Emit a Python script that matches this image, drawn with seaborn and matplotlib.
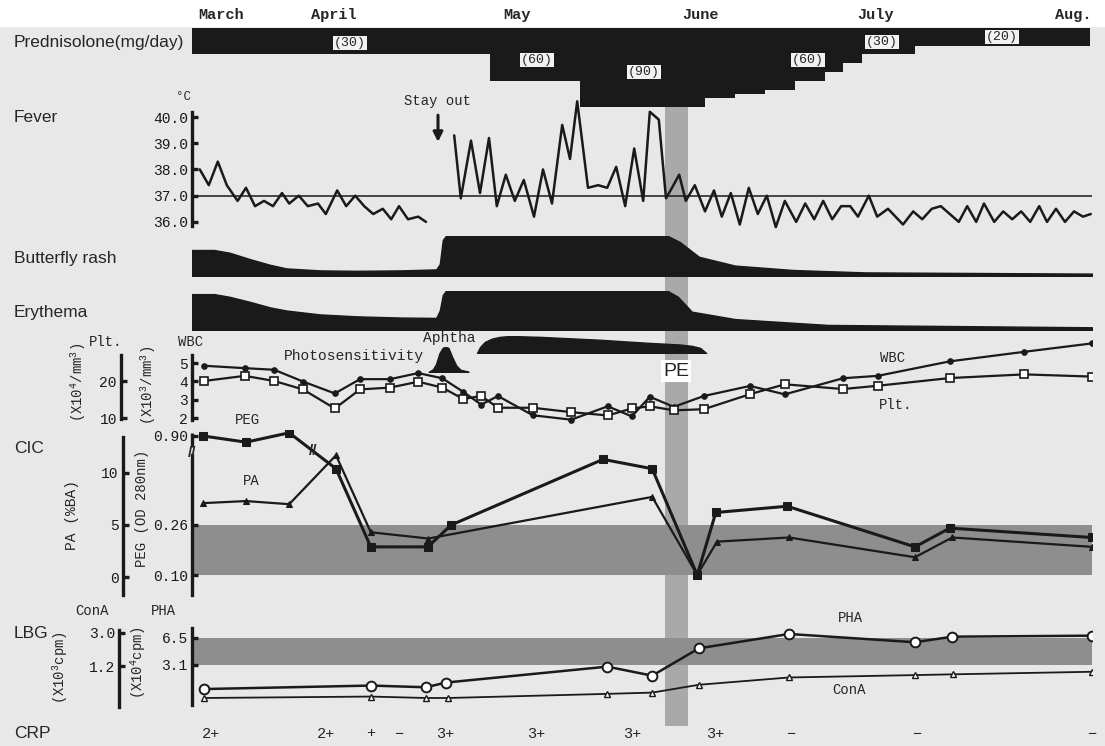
import numpy as np
import matplotlib
matplotlib.use("Agg")
import matplotlib.pyplot as plt
from matplotlib.patches import Rectangle
from matplotlib.ticker import NullLocator, NullFormatter
from matplotlib.transforms import IdentityTransform
import seaborn as sns

# ---------------- values (x = days from start of March) ----------------
months = ["March", "April", "May", "June", "July", "Aug."]
month_day = [4.8, 23.7, 54.2, 84.8, 114.0, 146.8]

# prednisolone (mg/day), each dose holds until the next day in the list
pred_day = [0, 49.7, 64.7, 85.5, 90.5, 95.5, 100.5, 105.5, 108.5, 111.7, 120.5, 149.7]
pred_dose = [30, 60, 90, 80, 75, 70, 60, 50, 40, 30, 20, 20]
pred_lab_day = [26.3, 57.5, 75.3, 102.7, 115.0, 135.0]
pred_lab = ["(30)", "(60)", "(90)", "(60)", "(30)", "(20)"]

# body temperature (deg C), before and after the stay out
fever1_day = [1.3, 2.8, 4.3, 5.8, 7.6, 9.0, 10.5, 12.0, 13.5, 15.0, 16.2, 17.8, 19.3,
              21.0, 22.3, 24.2, 25.7, 27.2, 28.7, 30.2, 31.8, 33.2, 34.5, 36.0, 37.7, 39.0]
fever1 = [38.0, 37.4, 38.3, 37.4, 36.8, 37.3, 36.6, 36.8, 36.6, 37.1, 36.7, 37.0, 36.6,
          36.7, 36.3, 37.2, 36.6, 37.0, 36.6, 36.3, 36.5, 36.1, 36.6, 36.1, 36.2, 36.0]
fever2_day = [43.7, 44.8, 46.5, 48.0, 49.5, 50.8, 52.3, 53.8, 55.3, 57.0, 58.5, 60.0,
              61.7, 63.0, 64.2, 66.0, 67.7, 69.2, 70.7, 72.2, 73.7, 75.2, 76.3, 77.8,
              79.0, 80.0, 81.2, 82.3, 83.8, 85.5, 87.0, 88.3, 89.8, 91.3, 92.8, 94.3,
              95.8, 97.3, 98.8, 100.7, 102.2, 103.7, 105.2, 106.7, 108.2, 109.7, 111.0, 112.8,
              114.2, 116.0, 118.5, 120.2, 121.7, 123.3, 124.8, 126.3, 127.8, 129.2, 130.7, 132.0,
              133.7, 135.2, 136.7, 138.2, 139.7, 141.2, 142.5, 144.0, 145.5, 147.0, 148.5, 149.8]
fever2 = [39.3, 36.9, 39.1, 37.1, 39.2, 36.6, 37.8, 36.8, 37.6, 36.2, 38.0, 36.7,
          39.7, 38.4, 40.6, 37.3, 37.4, 37.3, 38.1, 36.6, 38.8, 36.8, 40.2, 39.9,
          36.9, 37.3, 37.8, 36.8, 37.4, 36.4, 37.2, 36.2, 37.1, 35.9, 37.3, 36.3,
          37.0, 35.8, 36.8, 36.0, 36.7, 36.1, 36.8, 36.1, 36.6, 36.6, 36.2, 37.0,
          36.2, 36.5, 35.9, 36.4, 36.1, 36.5, 36.6, 36.3, 36.0, 36.6, 36.0, 36.7,
          36.0, 36.4, 36.1, 36.4, 36.0, 36.6, 36.0, 36.5, 36.0, 36.4, 36.2, 36.3]
stay_out_day = 41.0

# skin findings, relative intensity (1 = maximum)
rash_day = [0, 3.7, 6.3, 9.7, 13.0, 15.7, 21.3, 27.5, 34.7, 40.7, 41.3, 41.8, 42.3,
            79.3, 81.3, 84.5, 90.5, 100.2, 112.2, 150]
rash = [0.65, 0.65, 0.58, 0.42, 0.28, 0.19, 0.14, 0.13, 0.14, 0.165, 0.3, 0.9, 1.0,
        1.0, 0.85, 0.48, 0.26, 0.15, 0.09, 0.06]
ery_day = [0, 3.7, 6.3, 9.7, 13.0, 15.7, 21.3, 27.5, 34.7, 40.7, 41.3, 41.8, 42.3,
           79.3, 81.0, 83.3, 90.5, 106.0, 150]
ery = [0.92, 0.92, 0.85, 0.72, 0.58, 0.50, 0.40, 0.35, 0.32, 0.31, 0.5, 0.9, 1.0,
       1.0, 0.85, 0.47, 0.28, 0.13, 0.07]
photo_day = [39.5, 40.2, 40.7, 41.3, 41.8, 42.2, 42.7, 43.3, 44.0, 44.7, 46.0]
photo = [0, 0.1, 0.3, 0.75, 0.95, 1.0, 0.95, 0.6, 0.25, 0.08, 0]
aphtha_day = [47.5, 48.0, 48.8, 50.0, 51.3, 53.0, 58.0, 68.0, 76.0, 81.3, 83.3, 84.7, 85.7]
aphtha = [0, 0.35, 0.65, 0.85, 0.95, 1.0, 0.95, 0.78, 0.6, 0.5, 0.42, 0.3, 0]

# plasma exchange
pe_start, pe_end = 78.8, 82.7

# blood counts
lab_day = [2.0, 8.8, 13.7, 18.5, 23.8, 28.0, 33.0, 37.7, 41.7, 45.2, 48.2, 51.0, 56.8,
           63.2, 69.3, 73.3, 76.3, 80.3, 85.3, 93.0, 98.8, 108.5, 114.3, 126.3, 138.7, 150]
wbc = [4.85, 4.72, 4.63, 3.99, 3.34, 4.12, 4.12, 4.45, 4.17, 3.43, 2.73, 3.20, 2.15,
       1.91, 2.64, 2.09, 3.16, 2.61, 3.20, 3.75, 3.29, 4.17, 4.30, 5.09, 5.61, 6.07]
plt_count = [20.1, 21.5, 20.1, 17.8, 12.6, 17.8, 18.3, 19.9, 18.3, 15.2, 16.0, 12.8, 12.8,
             11.6, 10.7, 12.6, 13.2, 12.1, 12.4, 16.5, 19.2, 17.9, 18.8, 20.9, 21.9, 21.3]

# circulating immune complexes
peg_day = [1.8, 9.0, 16.2, 24.0, 29.8, 39.3, 43.2, 68.5, 76.7, 84.2, 87.3, 99.2, 120.5, 126.3, 150]
peg = [0.90, 0.88, 0.91, 0.44, 0.19, 0.19, 0.26, 0.47, 0.44, 0.10, 0.30, 0.32, 0.19, 0.25, 0.22]
pa_day = [1.8, 9.0, 16.2, 24.0, 29.8, 39.4, 76.7, 84.2, 87.5, 99.5, 120.5, 126.7, 150]
pa = [7.1, 7.3, 7.0, 11.7, 4.3, 3.7, 7.7, 0.2, 3.4, 3.8, 1.9, 3.8, 2.9]
peg_normal = (0.10, 0.26)

# lymphocyte blastogenesis
pha_day = [2.0, 29.8, 39.0, 42.3, 69.2, 76.7, 84.5, 99.5, 120.5, 126.7, 150]
pha = [1.59, 1.75, 1.67, 1.90, 2.95, 2.30, 4.89, 7.26, 5.78, 6.74, 6.93]
cona_day = [2.0, 29.8, 39.0, 42.7, 69.2, 76.7, 84.5, 99.5, 120.5, 126.8, 150]
cona = [0.50, 0.52, 0.50, 0.50, 0.56, 0.58, 0.72, 0.88, 0.94, 0.96, 1.03]
pha_normal = (3.1, 6.5)

# CRP
crp_day = [3.2, 22.3, 29.8, 34.5, 42.2, 57.3, 73.3, 87.2, 99.8, 120.8, 150]
crp = ["2+", "2+", "+", "\u2212", "3+", "3+", "3+", "3+", "\u2212", "\u2212", "\u2212"]

# ---------------- figure ----------------
sns.set_theme(style="white")
plt.rcParams["font.family"] = ["Liberation Sans", "DejaVu Sans"]
MONO = ["Liberation Mono", "DejaVu Sans Mono"]
PAGE = "#e8e8e8"
BAND = "#8e8e8e"
W, H = 1105, 746
X0, X1 = 192, 1092

fig = plt.figure(figsize=(W / 100, H / 100), dpi=100, facecolor=PAGE)
fig.add_artist(Rectangle((0, 1 - 26 / H), 1, 26 / H, transform=fig.transFigure,
                         color="white", zorder=-5))
axes = []


def panel(top, bottom):
    ax = fig.add_axes([X0 / W, 1 - bottom / H, (X1 - X0) / W, (bottom - top) / H])
    ax.patch.set_visible(False)
    for s in ax.spines.values():
        s.set_visible(False)
    ax.set_xticks([])
    ax.set_yticks([])
    axes.append(ax)
    return ax


def left_axis(ax, offset, bounds, ticks, labels):
    for s in ax.spines.values():
        s.set_visible(False)
    sp = ax.spines["left"]
    sp.set_visible(True)
    sp.set_position(("outward", offset))
    sp.set_bounds(*bounds)
    sp.set_linewidth(2.4)
    sp.set_color("k")
    ax.yaxis.set_ticks_position("left")
    ax.set_yticks(ticks)
    ax.set_yticklabels(labels, family=MONO, fontsize=10.5)
    ax.yaxis.set_minor_locator(NullLocator())
    ax.yaxis.set_minor_formatter(NullFormatter())
    ax.tick_params(axis="y", which="major", direction="in", length=4, width=2.4, pad=3,
                   left=True, right=False, labelleft=True, labelright=False, colors="k")


def ftext(x, y, s, **kw):
    kw.setdefault("va", "center")
    kw.setdefault("ha", "center")
    fig.text(x / W, 1 - y / H, s, **kw)


# plasma exchange band behind everything
ax_bg = panel(106, 726)
ax_bg.axvspan(pe_start, pe_end, color="#a9a9a9", lw=0)

# prednisolone
ax_p = panel(28, 110)
ax_p.fill_between(pred_day, 0, pred_dose, step="post", color="k", lw=0)
ax_p.set_ylim(93.2, 0)
for d, s, yv in zip(pred_lab_day, pred_lab, [17, 36, 50, 36, 16, 10]):
    ax_p.text(d, yv, s, ha="center", va="center", family=MONO, fontsize=9.5,
              bbox=dict(facecolor="#f2f2f2", edgecolor="none", pad=0.8))
ax_p.xaxis.set_ticks_position("top")
ax_p.set_xticks(month_day)
ax_p.set_xticklabels(months, family=MONO, fontsize=11, fontweight="bold")
ax_p.tick_params(axis="x", length=0, pad=4)

# fever
ax_f = panel(95, 235)
ax_f.axhline(37.0, color="k", lw=1.1)
sns.lineplot(x=fever1_day, y=fever1, ax=ax_f, color="k", lw=1.8, estimator=None, sort=False)
sns.lineplot(x=fever2_day, y=fever2, ax=ax_f, color="k", lw=1.8, estimator=None, sort=False)
ax_f.set_ylim(35.50, 40.84)
left_axis(ax_f, 0, (35.84, 40.2), [36, 37, 38, 39, 40],
          ["36.0", "37.0", "38.0", "39.0", "40.0"])
ax_f.annotate("Stay out", xy=(stay_out_day, 39.05), xytext=(stay_out_day, 40.62),
              ha="center", va="center", family=MONO, fontsize=10,
              arrowprops=dict(arrowstyle="-|>", color="k", lw=2.2, mutation_scale=14,
                              shrinkA=3, shrinkB=0))

# butterfly rash / erythema
ax_r = panel(236, 276)
ax_r.fill_between(rash_day, 0, rash, color="k", lw=1)
ax_r.set_ylim(0, 1)
ax_e = panel(291, 330)
ax_e.fill_between(ery_day, 0, ery, color="k", lw=1)
ax_e.set_ylim(0, 1)

# photosensitivity and aphtha
ax_ph = panel(347, 372)
ax_ph.fill_between(photo_day, 0, photo, color="k", lw=1.5)
ax_ph.set_ylim(0, 1)
ax_ap = panel(336, 353)
ax_ap.fill_between(aphtha_day, 0, aphtha, color="k", lw=1)
ax_ap.set_ylim(0, 1)

# WBC / Plt
ax_w = panel(330, 425)
sns.lineplot(x=lab_day, y=wbc, ax=ax_w, color="k", lw=1.6, marker="o", markersize=4,
             markerfacecolor="k", markeredgecolor="k", estimator=None, sort=False)
ax_w.set_ylim(1.62, 6.80)
left_axis(ax_w, 0, (1.89, 5.44), [2, 3, 4, 5], ["2", "3", "4", "5"])
ax_pl = ax_w.twinx()
ax_pl.patch.set_visible(False)
sns.lineplot(x=lab_day, y=plt_count, ax=ax_pl, color="k", lw=1.6, marker="s", markersize=6,
             markerfacecolor="white", markeredgecolor="k", markeredgewidth=1.2,
             estimator=None, sort=False)
ax_pl.set_ylim(8.1, 34.0)
left_axis(ax_pl, 51, (9.7, 27.2), [10, 20], ["10", "20"])
axes.append(ax_pl)

# CIC: PEG (broken scale) and PA
PEG_KNOTS = [0.0, 0.26, 0.50, 0.86, 1.2]
PAEQ_KNOTS = [-2.81, 5.0, 12.21, 12.36, 22.57]


def peg_fwd(v):
    return np.interp(np.asarray(v, dtype=float), PEG_KNOTS, PAEQ_KNOTS)


def peg_inv(v):
    return np.interp(np.asarray(v, dtype=float), PAEQ_KNOTS, PEG_KNOTS)


pa_lim = (-1.92, 14.13)
ax_c = panel(430, 597)
ax_c.set_yscale("function", functions=(peg_fwd, peg_inv))
ax_c.set_ylim(float(peg_inv(pa_lim[0])), float(peg_inv(pa_lim[1])))
ax_c.axhspan(*peg_normal, color=BAND, lw=0, zorder=0)
sns.lineplot(x=peg_day, y=peg, ax=ax_c, color="k", lw=2.2, marker="s", markersize=6,
             markerfacecolor="k", markeredgecolor="k", estimator=None, sort=False)
ax_c.set_ylim(float(peg_inv(pa_lim[0])), float(peg_inv(pa_lim[1])))
left_axis(ax_c, 0, (0.036, 0.484), [0.10, 0.26, 0.90], ["0.10", "0.26", "0.90"])
ax_c.plot([0, 0], [0.866, 0.91], color="k", lw=2.4, transform=ax_c.get_yaxis_transform(),
          clip_on=False, solid_capstyle="butt")
ax_c.text(0, 0.49, "//", transform=ax_c.get_yaxis_transform(), ha="center", va="center",
          fontsize=11, fontweight="bold")
ax_pa = ax_c.twinx()
ax_pa.patch.set_visible(False)
sns.lineplot(x=pa_day, y=pa, ax=ax_pa, color="k", lw=1.6, marker="^", markersize=5,
             markerfacecolor="k", markeredgecolor="k", estimator=None, sort=False)
ax_pa.set_ylim(pa_lim)
left_axis(ax_pa, 49.7, (-1.73, 13.46), [0, 5, 10], ["0", "5", "10"])
axes.append(ax_pa)

# LBG: PHA and ConA on log scales
ax_l = panel(625, 710)
ax_l.set_yscale("log")
ax_l.axhspan(*pha_normal, color=BAND, lw=0, zorder=0)
sns.lineplot(x=pha_day, y=pha, ax=ax_l, color="k", lw=1.8, marker="o", markersize=7,
             markerfacecolor="white", markeredgecolor="k", markeredgewidth=1.4,
             estimator=None, sort=False)
ax_l.set_ylim(0.892, 9.30)
left_axis(ax_l, 0, (1.02, 8.57), [3.1, 6.5], ["3.1", "6.5"])
ax_co = ax_l.twinx()
ax_co.patch.set_visible(False)
ax_co.set_yscale("log")
sns.lineplot(x=cona_day, y=cona, ax=ax_co, color="k", lw=1.3, marker="^", markersize=5,
             markerfacecolor="white", markeredgecolor="k", markeredgewidth=1.0,
             estimator=None, sort=False)
ax_co.set_ylim(0.359, 3.74)
left_axis(ax_co, 52.5, (0.39, 3.26), [1.2, 3.0], ["1.2", "3.0"])
axes.append(ax_co)

# CRP
ax_crp = panel(722, 745)
ax_crp.set_ylim(0, 1)
for d, s in zip(crp_day, crp):
    ax_crp.text(d, 0.5, s, ha="center", va="center", family=MONO, fontsize=11)

for ax in axes:
    ax.set_xlim(0, 150)
    ax.set_xlabel("")
    ax.set_ylabel("")

# break marks on the PEG line
p = ax_c.transData.transform(np.column_stack([peg_day[2:4], peg[2:4]])).mean(axis=0)
ax_c.text(p[0], p[1], "//", transform=IdentityTransform(), ha="center", va="center",
          fontsize=11, fontweight="bold")

# row titles
for y, s in [(43, "Prednisolone(mg/day)"), (118, "Fever"), (258, "Butterfly rash"),
             (313, "Erythema"), (449, "CIC"), (634, "LBG"), (733, "CRP")]:
    ftext(14, y, s, ha="left", fontsize=12.5)

# axis captions and in-chart labels
ftext(183, 97, "\u00b0C", family=MONO, fontsize=9)
ftext(106, 342, "Plt.", family=MONO, fontsize=10)
ftext(191, 342, "WBC", family=MONO, fontsize=10)
ftext(78, 382, r"(X10$\mathregular{^4}$/mm$\mathregular{^3}$)", rotation=90, family=MONO, fontsize=10)
ftext(148, 385, r"(X10$\mathregular{^3}$/mm$\mathregular{^3}$)", rotation=90, family=MONO, fontsize=10)
ftext(72, 515, "PA (%BA)", rotation=90, family=MONO, fontsize=10.5)
ftext(142, 508, "PEG (OD 280nm)", rotation=90, family=MONO, fontsize=10)
ftext(92, 611, "ConA", family=MONO, fontsize=10)
ftext(163, 611, "PHA", family=MONO, fontsize=10)
ftext(60, 668, r"(X10$\mathregular{^3}$cpm)", rotation=90, family=MONO, fontsize=10)
ftext(138, 663, r"(X10$\mathregular{^4}$cpm)", rotation=90, family=MONO, fontsize=10)
ftext(247, 420, "PEG", family=MONO, fontsize=10)
ftext(251, 481, "PA", family=MONO, fontsize=10)
ftext(893, 358, "WBC", family=MONO, fontsize=10)
ftext(896, 405, "Plt.", family=MONO, fontsize=10)
ftext(850, 618, "PHA", family=MONO, fontsize=10)
ftext(849, 690, "ConA", family=MONO, fontsize=10)
ftext(449, 338, "Aphtha", family=MONO, fontsize=10.5)
ftext(354, 356, "Photosensitivity", family=MONO, fontsize=10.5)
ftext(676, 371, "PE", fontsize=14, bbox=dict(facecolor="white", edgecolor="none", pad=1.5))

fig.savefig("out.png", dpi=100, facecolor=PAGE)
